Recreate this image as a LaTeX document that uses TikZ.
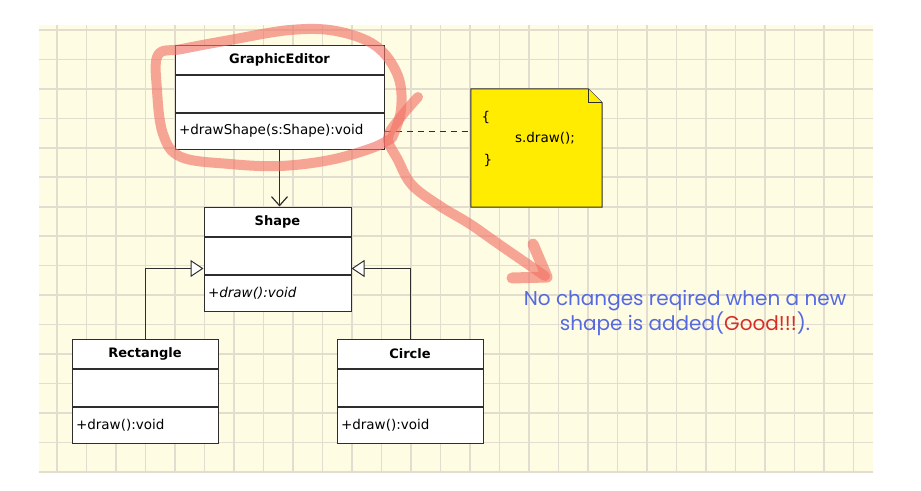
\documentclass[tikz,border=0pt]{standalone}
\usepackage{fontspec}
\setmainfont{DejaVu Sans}
\newfontfamily\handfont{Poppins}
\usepackage{color}
\definecolor{mypaper}{RGB}{255,252,228}
\definecolor{mygrid}{RGB}{226,221,206}
\definecolor{myline}{RGB}{45,45,45}
\definecolor{mynote}{RGB}{255,236,0}
\definecolor{mymarker}{RGB}{242,112,100}
\definecolor{myblue}{RGB}{85,105,225}
\definecolor{myred}{RGB}{215,45,40}
\usepackage{tikz}
\usetikzlibrary{calc,arrows.meta,positioning}
\tikzstyle{ctitle}=[draw=myline,fill=white,line width=1pt,minimum height=29pt,inner sep=0pt,font=\fontsize{13}{15}\selectfont\bfseries]
\tikzstyle{cattr}=[draw=myline,fill=white,line width=1pt,minimum height=37pt,inner sep=0pt]
\tikzstyle{cop}=[draw=myline,fill=white,line width=1pt,minimum height=36pt,inner xsep=4pt,inner ysep=0pt,align=left,font=\fontsize{13.5}{15}\selectfont]
\tikzstyle{notetext}=[inner sep=0pt,font=\fontsize{13.5}{15}\selectfont]

\begin{document}
\begin{tikzpicture}[x=1pt,y=-1pt,
  gridline/.style={draw=mygrid,line width=1.6pt},
  assoc/.style={draw=myline,line width=1pt,-{Straight Barb[length=9pt,width=16pt,line width=1.2pt]}},
  inherit/.style={draw=myline,line width=1pt,-{Triangle[open,length=13pt,width=17pt,fill=white]}},
  noteline/.style={draw=myline,line width=1pt,dash pattern=on 6pt off 5pt},
  marker/.style={draw=mymarker,line width=10pt,line cap=round,line join=round,opacity=0.62}]
\useasboundingbox (0,0) rectangle (921,490);
\fill[white] (0,0) rectangle (921,490);
\fill[mypaper] (39,25) rectangle (873,472);
\foreach \gx in {0,...,27}
  \draw[gridline] ({57+29.5*\gx},25) -- ({57+29.5*\gx},472);
\foreach \gy in {0,...,15}
  \draw[gridline] (39,{30+29.45*\gy}) -- (873,{30+29.45*\gy});

\node [ctitle, minimum width=209pt] (ge) at (279.5,59.5) {GraphicEditor};
\node [cattr, minimum width=209pt, below=0pt of ge] (ge-a) {};
\node [cop, text width=201pt, below=0pt of ge-a] (ge-o) {+drawShape(s:Shape):void};

\node [ctitle, minimum width=147pt] (sh) at (277.5,221.5) {Shape};
\node [cattr, minimum width=147pt, below=0pt of sh] (sh-a) {};
\node [cop, text width=139pt, below=0pt of sh-a] (sh-o) {\itshape +draw():void};

\node [ctitle, minimum width=146pt] (re) at (145,353.5) {Rectangle};
\node [cattr, minimum width=146pt, below=0pt of re] (re-a) {};
\node [cop, text width=138pt, below=0pt of re-a] (re-o) {+draw():void};

\node [ctitle, minimum width=146pt] (ci) at (410,353.5) {Circle};
\node [cattr, minimum width=146pt, below=0pt of ci] (ci-a) {};
\node [cop, text width=138pt, below=0pt of ci-a] (ci-o) {+draw():void};

\node [minimum width=131pt, minimum height=118pt, inner sep=0pt] (note) at (536.5,148) {};
\draw[myline, line width=1pt, fill=mynote] (note.north west) -- ([xshift=-14pt]note.north east) -- ([yshift=-14pt]note.north east) -- (note.south east) -- (note.south west) -- cycle;
\draw[myline, line width=1pt, fill=mynote] ([xshift=-14pt]note.north east) -- ([xshift=-14pt,yshift=-14pt]note.north east) -- ([yshift=-14pt]note.north east);
\node [notetext] (nb1) at (486,117) {\{};
\node [notetext] (nbody) at (545,138) {s.draw();};
\node [notetext] (nb2) at (488,160) {\}};

\draw[assoc] (ge-o.south) -- (ge-o.south |- sh.north);
\draw[inherit] (re.north) |- ($(sh-a.south west)+(0,-6)$);
\draw[inherit] (ci.north) |- ($(sh-a.south east)+(0,-6)$);
\draw[noteline] (ge-o.east) -- (ge-o.east -| note.west);

\draw[marker] plot[smooth, tension=0.6] coordinates {(392,138) (401,110) (398,76) (376,46) (336,31) (290,30) (230,40) (182,49) (158,55) (157,90) (163,134) (181,157) (230,164) (280,166) (330,160) (372,148) (392,138)};
\draw[marker] plot[smooth, tension=0.6] coordinates {(418,97) (400,118) (388,138) (398,160) (412,185) (440,206) (470,224) (500,245) (545,276)};
\draw[marker, line width=11pt] (533,244) -- (547,277) -- (512,278);

\node [text=myblue, align=center, font=\handfont\fontsize{20}{23}\selectfont] (msg) at (685,313) {No changes reqired when a new\\ shape is added(\textcolor{myred}{Good!!!}).};
\end{tikzpicture}
\end{document}
